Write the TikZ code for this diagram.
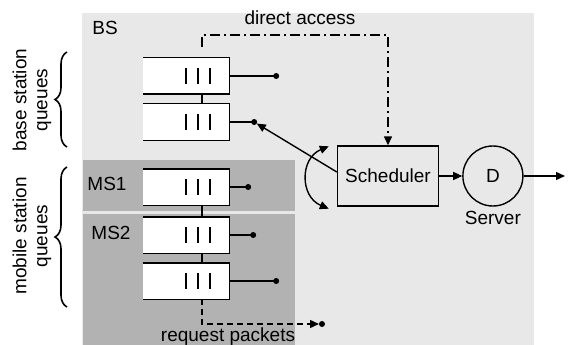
\documentclass[tikz,border=0pt]{standalone}
\usepackage{fontspec}
\setmainfont{Liberation Sans}
\usetikzlibrary{arrows.meta, calc, positioning}
\usetikzlibrary{decorations.pathreplacing}
\definecolor{stipple}{gray}{0.91}
\definecolor{hatchgray}{gray}{0.70}

\tikzset{
	queue/.style={minimum width=85pt, minimum height=35pt, inner sep=0pt},
	brc/.style={decorate, decoration={brace, amplitude=12pt}, line width=1.6pt},
	txt/.style={font=\fontsize{19}{21}\selectfont}
}

\begin{document}
\begin{tikzpicture}[> = {Triangle[length=9pt,width=8pt]}, x=1pt, y=-1pt, line width=1.4pt, every node/.style={txt}]
	\useasboundingbox (0,0) rectangle (568,345);
	% shaded areas
	\fill[stipple] (82,13) rectangle (534,345);
	\fill[hatchgray] (83,160) rectangle (295,211);
	\fill[hatchgray] (83,214) rectangle (295,345);

	% queues
	\node[queue] (bq1) at (186,76) {};
	\node[queue] (bq2) at (186,122) {};
	\node[queue] (mq1) at (186,187) {};
	\node[queue] (mq2) at (186,235) {};
	\node[queue] (mq3) at (186,281) {};
	\foreach \q/\len in {bq1/47, bq2/25, mq1/19, mq2/24, mq3/47} {
		\fill[white] (\q.north west) rectangle (\q.south east);
		\draw (\q.north west) -- (\q.north east) -- (\q.south east) -- (\q.south west);
		\foreach \dx in {0,12,24}
			\draw ($(\q.center)+(\dx,-8)$) -- ($(\q.center)+(\dx,8)$);
		\coordinate (\q dot) at ($(\q.east)+(\len,0)$);
		\draw (\q.east) -- (\q dot);
		\fill (\q dot) circle (3pt);
	}
	\draw ([xshift=16pt]bq1.south) -- ([xshift=16pt]bq2.north);
	\draw ([xshift=16pt]mq1.south) -- ([xshift=16pt]mq2.north);
	\draw ([xshift=16pt]mq2.south) -- ([xshift=16pt]mq3.north);

	\node (bs) at (105,28) {BS};
	\node (ms1) at (107,184) {MS1};
	\node (ms2) at (111,233) {MS2};

	% scheduler and server
	\node[draw, minimum width=101pt, minimum height=60pt] (sched) at (388,176) {Scheduler};
	\node[draw, circle, minimum size=60pt, right=23pt of sched] (srv) {D};
	\node[below=0pt of srv] (srvlbl) {Server};
	\coordinate (out) at (565,176);
	\draw[->] (sched) -- (srv);
	\draw[->] (srv) -- (out);

	% selection of a queue
	\draw[->, shorten >=3pt] ([yshift=4pt]sched.west) -- (bq2dot);
	\coordinate (sw1) at ($(sched.north west)+(-8,1)$);
	\coordinate (sw2) at ($(sched.south west)+(-8,2)$);
	\draw[<->] (sw1) .. controls +(-29,12) and +(-29,-12) .. (sw2);

	% direct access
	\coordinate (da) at (202,47);
	\coordinate (dt) at (202,35);
	\draw[->, dash pattern=on 10pt off 4pt on 2pt off 4pt] (da) -- (dt) -| (sched.north);
	\node (dalbl) at (300,18) {direct access};

	% request packets
	\coordinate (rp) at (322,324);
	\draw[->, dash pattern=on 6pt off 4pt, shorten >=3pt] ([xshift=16pt]mq3.south) |- (rp);
	\fill (rp) circle (3pt);
	\node (rplbl) at (228,337) {request packets};

	% braces
	\draw[brc] (67,147) -- (67,52);
	\draw[brc] (67,307) -- (67,167);
	\node[rotate=90, align=center] (bsq) at (32,100) {base station\\queues};
	\node[rotate=90, align=center] (msq) at (32,236) {mobile station\\queues};
\end{tikzpicture}
\end{document}
